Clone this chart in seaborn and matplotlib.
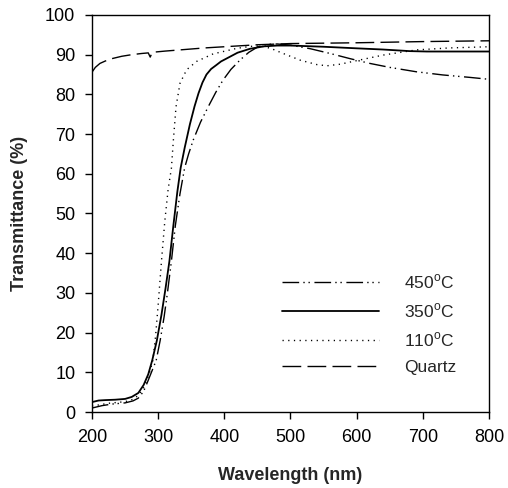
"""Transmittance spectra of films vs. quartz substrate."""

import matplotlib
matplotlib.use("Agg")
import matplotlib.pyplot as plt
import seaborn as sns
import pandas as pd

# data (wavelength nm, transmittance %)
wl_450 = [200, 215, 230, 250, 262, 270, 278, 285, 291, 297, 303, 309, 314, 320, 326, 333, 340, 346, 353,
          364, 376, 387, 398, 410, 424, 437, 451, 465, 480, 500, 530, 560, 590, 620, 650, 690, 730, 770, 800]
tr_450 = [1.0, 1.6, 2.0, 2.3, 2.8, 3.5, 5.2, 8.0, 10.5, 13.0, 18.0, 24.0, 30.0, 38.0, 47.0, 55.0, 61.5, 65.0, 68.5,
          73.0, 77.0, 80.5, 83.6, 86.3, 88.7, 90.6, 92.0, 92.6, 92.7, 92.4, 91.5, 90.3, 89.0, 87.8, 86.8, 85.7, 84.9, 84.3, 83.8]

wl_350 = [200, 210, 220, 235, 250, 260, 270, 278, 285, 291, 298, 305, 311, 317, 323, 329, 334, 340, 348,
          355, 361, 367, 373, 380, 388, 395, 403, 420, 439, 460, 480, 500, 550, 600, 640, 680, 706, 800]
tr_350 = [2.5, 2.9, 3.0, 3.1, 3.3, 3.8, 4.8, 6.8, 9.5, 13.0, 18.0, 24.5, 31.0, 38.0, 47.0, 55.5, 61.5, 66.5, 72.5,
          77.0, 80.3, 83.0, 85.0, 86.4, 87.4, 88.3, 89.0, 90.5, 91.5, 92.1, 92.3, 92.3, 92.0, 91.6, 91.3, 90.9, 90.8, 90.8]

wl_110 = [200, 225, 250, 262, 270, 277, 283, 288, 292, 296, 300, 305, 310, 315, 320, 323, 327, 333, 343,
          358, 383, 419, 440, 455, 470, 489, 515, 540, 555, 575, 600, 640, 690, 740, 800]
tr_110 = [1.5, 2.2, 2.6, 3.2, 4.2, 5.8, 8.0, 10.5, 13.0, 19.0, 27.0, 38.0, 48.0, 56.0, 61.4, 68.5, 76.9, 82.8, 86.2,
          88.3, 90.2, 91.6, 92.1, 92.2, 91.6, 90.3, 88.6, 87.5, 87.2, 87.6, 88.5, 89.9, 91.2, 91.7, 92.0]

wl_qz = [200, 205, 212, 220, 230, 245, 260, 275, 285, 288, 291, 310, 340, 370, 400, 450, 500, 600, 700, 800]
tr_qz = [85.6, 86.8, 87.8, 88.4, 89.0, 89.6, 90.0, 90.3, 90.45, 89.4, 90.6, 90.9, 91.3, 91.7, 92.0, 92.5, 92.8, 93.0, 93.3, 93.5]

labels = ["450$^{\\mathregular{o}}$C", "350$^{\\mathregular{o}}$C", "110$^{\\mathregular{o}}$C", "Quartz"]

sns.set_style("ticks")
plt.rcParams["font.family"] = ["Liberation Sans", "DejaVu Sans"]
plt.rcParams["mathtext.fontset"] = "custom"
plt.rcParams["mathtext.rm"] = "Liberation Sans"

fig = plt.figure(figsize=(5.08, 4.88), dpi=100)
ax = fig.add_axes([0.1811, 0.1557, 0.7815, 0.8136])

series = [
    (wl_450, tr_450, dict(linewidth=1.0, linestyle=(0, (12, 3, 1, 2.7, 1, 3.3)))),
    (wl_350, tr_350, dict(linewidth=1.3, linestyle="-")),
    (wl_110, tr_110, dict(linewidth=1.0, linestyle=(0, (0.9, 3.2)))),
    (wl_qz, tr_qz, dict(linewidth=1.0, linestyle=(0, (13.5, 4.5)))),
]
for (x, y, style), lab in zip(series, labels):
    df = pd.DataFrame({"wl": x, "tr": y})
    sns.lineplot(data=df, x="wl", y="tr", ax=ax, color="black", label=lab, **style)

ax.set_xlim(200, 800)
ax.set_ylim(0, 100)
ax.set_xticks(range(200, 801, 100))
ax.set_yticks(range(0, 101, 10))
ax.tick_params(direction="out", length=5, width=1, pad=7, labelsize=13, colors="black")
for sp in ax.spines.values():
    sp.set_visible(True)
    sp.set_linewidth(1.0)
    sp.set_color("black")

ax.set_xlabel("Wavelength (nm)", fontsize=13, fontweight="bold", labelpad=15)
ax.set_ylabel("Transmittance (%)", fontsize=13, fontweight="bold", labelpad=12)

ax.legend(loc="upper left", bbox_to_anchor=(0.4786, 0.352), frameon=False,
          fontsize=12.5, handlelength=5.6, handletextpad=1.45, labelspacing=0.6,
          borderpad=0, borderaxespad=0)

fig.savefig("out.png", dpi=100, facecolor="white")
